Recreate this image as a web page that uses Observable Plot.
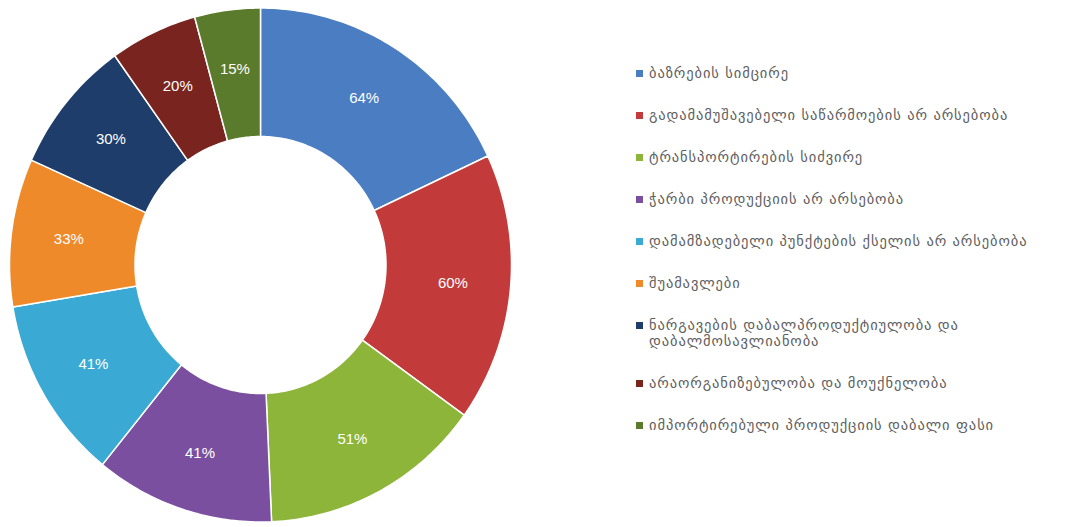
<!DOCTYPE html>
<html>
<head>
<meta charset="utf-8">
<script src="https://cdn.jsdelivr.net/npm/d3@7"></script>
<script src="https://cdn.jsdelivr.net/npm/@observablehq/plot@0.6"></script>
<style>
  html, body { margin: 0; padding: 0; background: #fff; }
  #wrap { position: relative; width: 1066px; height: 527px; overflow: hidden; }
  #chart { position: absolute; left: 0; top: 0; }
  #legend { position: absolute; left: 636px; top: 65px; width: 428px;
    font-family: "DejaVu Sans", "Noto Sans", sans-serif; font-size: 14.5px; letter-spacing: 0.9px; color: #5e5e5e; }
  .item { display: flex; align-items: flex-start; margin-bottom: 26px; line-height: 16px; }
  .sw { width: 7px; height: 7px; margin-top: 5px; margin-right: 6px; flex: none; }
  .lbl { width: 410px; }
</style>
</head>
<body>
<div id="wrap">
  <div id="chart"></div>
  <div id="legend"></div>
</div>
<script>
const categories = [
  "ბაზრების სიმცირე",
  "გადამამუშავებელი საწარმოების არ არსებობა",
  "ტრანსპორტირების სიძვირე",
  "ჭარბი პროდუქციის არ არსებობა",
  "დამამზადებელი პუნქტების ქსელის არ არსებობა",
  "შუამავლები",
  "ნარგავების დაბალპროდუქტიულობა და დაბალმოსავლიანობა",
  "არაორგანიზებულობა და მოუქნელობა",
  "იმპორტირებული პროდუქციის დაბალი ფასი"
];
const values = [64, 60, 51, 41, 41, 33, 30, 20, 15];
const colors = ["#4A7DC2", "#C23B3A", "#8DB53A", "#7B4FA0", "#3AAAD4", "#EF8A2A", "#1E3D6B", "#7A2420", "#5A7A2C"];

const W = 530, H = 527;
const cx = 260, cy = 264.5, rx = 251, ry = 257;
const inner = 0.5, labelR = 0.77;

const data = categories.map((c, i) => ({category: c, value: values[i], color: colors[i]}));
const arcs = d3.pie().sort(null).value(d => d.value)(data);

const pts = [];
for (const a of arcs) {
  const n = Math.max(8, Math.ceil((a.endAngle - a.startAngle) * 60));
  for (let k = 0; k <= n; k++) {
    const t = a.startAngle + (a.endAngle - a.startAngle) * k / n;
    pts.push({category: a.data.category, x: Math.sin(t), y: Math.cos(t)});
  }
  for (let k = n; k >= 0; k--) {
    const t = a.startAngle + (a.endAngle - a.startAngle) * k / n;
    pts.push({category: a.data.category, x: inner * Math.sin(t), y: inner * Math.cos(t)});
  }
}
const labels = arcs.map(a => {
  const m = (a.startAngle + a.endAngle) / 2;
  return {x: labelR * Math.sin(m), y: labelR * Math.cos(m), text: a.data.value + "%"};
});

const chart = Plot.plot({
  width: W, height: H,
  margin: 0,
  x: {domain: [-cx / rx, (W - cx) / rx], axis: null},
  y: {domain: [-(H - cy) / ry, cy / ry], axis: null},
  color: {domain: categories, range: colors},
  style: {background: "transparent"},
  marks: [
    Plot.line(pts, {x: "x", y: "y", z: "category", fill: "category", stroke: "white", strokeWidth: 1.5, curve: "linear-closed"}),
    Plot.text(labels, {x: "x", y: "y", text: "text", fill: "white", fontSize: 15, fontFamily: "Liberation Sans, Arial, sans-serif"})
  ]
});
document.getElementById("chart").appendChild(chart);

const legend = document.getElementById("legend");
categories.forEach((c, i) => {
  const it = document.createElement("div");
  it.className = "item";
  const sw = document.createElement("div");
  sw.className = "sw";
  sw.style.background = colors[i];
  const lb = document.createElement("div");
  lb.className = "lbl";
  lb.textContent = c;
  it.appendChild(sw); it.appendChild(lb);
  legend.appendChild(it);
});
</script>
</body>
</html>
